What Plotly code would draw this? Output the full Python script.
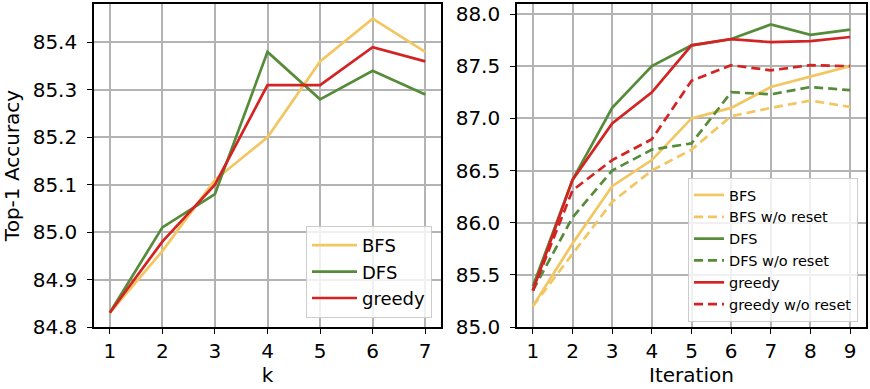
import plotly.graph_objects as go

# left panel: accuracy vs k
k_vals = [1, 2, 3, 4, 5, 6, 7]
bfs_k = [84.83, 84.96, 85.11, 85.20, 85.36, 85.45, 85.38]
dfs_k = [84.83, 85.01, 85.08, 85.38, 85.28, 85.34, 85.29]
greedy_k = [84.83, 84.98, 85.10, 85.31, 85.31, 85.39, 85.36]

# right panel: accuracy vs iteration
iters = [1, 2, 3, 4, 5, 6, 7, 8, 9]
bfs_it = [85.20, 85.80, 86.35, 86.60, 87.00, 87.10, 87.30, 87.40, 87.50]
bfs_noreset = [85.20, 85.70, 86.20, 86.50, 86.70, 87.02, 87.10, 87.17, 87.11]
dfs_it = [85.39, 86.41, 87.10, 87.50, 87.70, 87.76, 87.90, 87.80, 87.85]
dfs_noreset = [85.35, 86.05, 86.50, 86.70, 86.76, 87.25, 87.23, 87.30, 87.27]
greedy_it = [85.35, 86.41, 86.95, 87.25, 87.70, 87.76, 87.73, 87.74, 87.78]
greedy_noreset = [85.35, 86.31, 86.60, 86.80, 87.36, 87.51, 87.46, 87.51, 87.50]

YEL = "#f2c661"
GRN = "#568b3a"
RED = "#d42323"
DASH = "9px,5px"
LW = 2.7

TICKFONT = dict(family="DejaVu Sans", size=20, color="black")
TITLEFONT = dict(family="DejaVu Sans", size=20, color="black")

fig = go.Figure()

for name, ys, col in [("BFS", bfs_k, YEL), ("DFS", dfs_k, GRN), ("greedy", greedy_k, RED)]:
    fig.add_trace(go.Scatter(x=k_vals, y=ys, mode="lines", name=name,
                             line=dict(color=col, width=LW),
                             xaxis="x", yaxis="y", legend="legend"))

right = [
    ("BFS", bfs_it, YEL, "solid"),
    ("BFS w/o reset", bfs_noreset, YEL, DASH),
    ("DFS", dfs_it, GRN, "solid"),
    ("DFS w/o reset", dfs_noreset, GRN, DASH),
    ("greedy", greedy_it, RED, "solid"),
    ("greedy w/o reset", greedy_noreset, RED, DASH),
]
for name, ys, col, dash in right:
    fig.add_trace(go.Scatter(x=iters, y=ys, mode="lines", name=name,
                             line=dict(color=col, width=LW, dash=dash),
                             xaxis="x2", yaxis="y2", legend="legend2"))

W, H = 870, 389
ax_common = dict(showline=True, linecolor="black", linewidth=1.6, mirror=True,
                 ticks="outside", ticklen=5, tickwidth=1.4, tickcolor="black",
                 showgrid=True, gridcolor="#b3b3b3", gridwidth=1.5,
                 zeroline=False, tickfont=TICKFONT)

fig.update_layout(
    width=W, height=H,
    margin=dict(l=0, r=0, t=4, b=62),
    plot_bgcolor="white", paper_bgcolor="white",
    font=dict(family="DejaVu Sans", color="black"),
    xaxis=dict(domain=[94 / W, 441 / W], range=[0.7, 7.3], tickvals=k_vals,
               title=dict(text="k", font=TITLEFONT, standoff=6), **ax_common),
    yaxis=dict(range=[84.8, 85.481], tickvals=[84.8, 84.9, 85.0, 85.1, 85.2, 85.3, 85.4],
               tickformat=".1f", ticklabelstandoff=6,
               title=dict(text="Top-1 Accuracy", font=TITLEFONT, standoff=8), **ax_common),
    xaxis2=dict(domain=[517 / W, 866 / W], range=[0.6, 9.4], tickvals=iters, anchor="y2",
                title=dict(text="Iteration", font=TITLEFONT, standoff=6), **ax_common),
    yaxis2=dict(range=[85.0, 88.096], tickvals=[85.0, 85.5, 86.0, 86.5, 87.0, 87.5, 88.0],
                tickformat=".1f", anchor="x2", ticklabelstandoff=6, **ax_common),
    legend=dict(x=432 / W, xanchor="right", y=1 - (318 - 4) / 323, yanchor="bottom",
                xref="paper", yref="paper", itemwidth=45,
                bgcolor="rgba(255,255,255,0.8)", bordercolor="#cccccc", borderwidth=1,
                font=dict(family="DejaVu Sans", size=18, color="black")),
    legend2=dict(x=858 / W, xanchor="right", y=1 - (322 - 4) / 323, yanchor="bottom",
                 xref="paper", yref="paper",
                 bgcolor="rgba(255,255,255,0.8)", bordercolor="#cccccc", borderwidth=1,
                 font=dict(family="DejaVu Sans", size=14.5, color="black")),
    showlegend=True,
)

fig.write_html("out.html", config={"displayModeBar": False},
               post_script="document.body.style.margin='0px';")
